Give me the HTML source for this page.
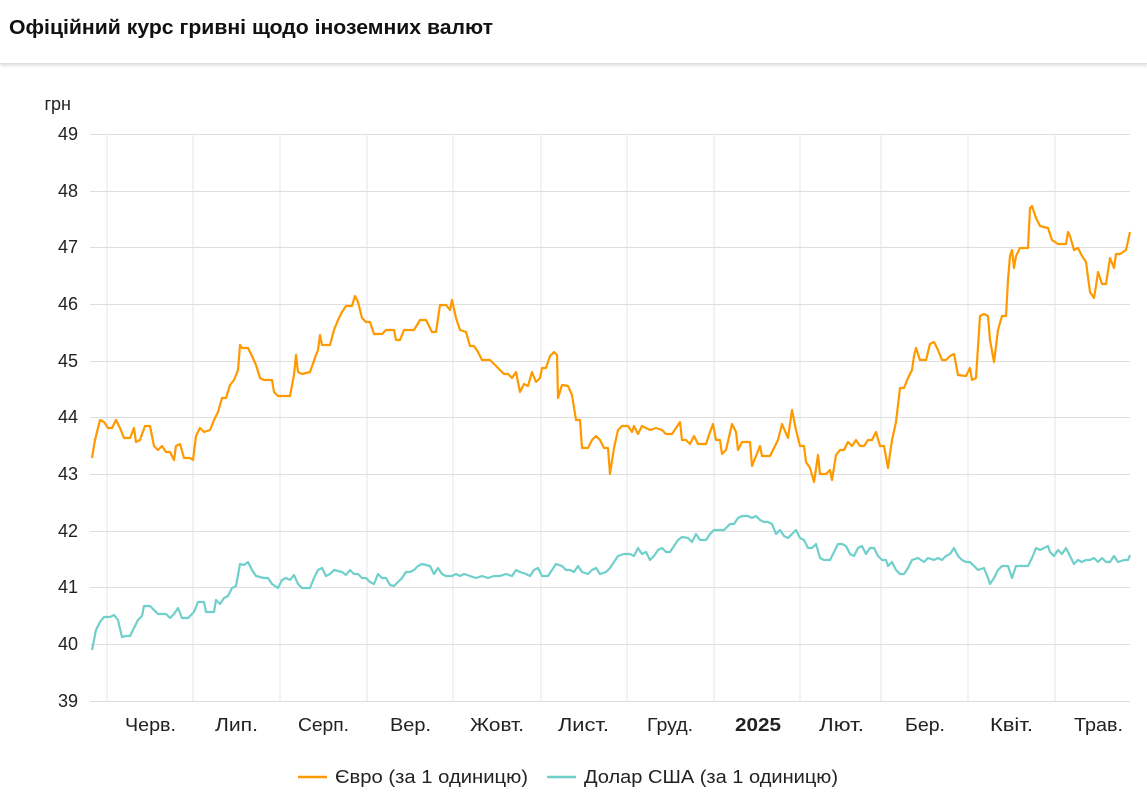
<!DOCTYPE html>
<html><head><meta charset="utf-8"><style>
body{margin:0;background:#fff;font-family:"Liberation Sans",Arial,sans-serif;}
.hdr{position:absolute;left:0;top:0;width:1147px;height:63px;border-bottom:1px solid #ddd;box-shadow:0 2px 3px rgba(0,0,0,0.12);}
svg{position:absolute;left:0;top:0}
</style></head><body>
<div class="hdr"></div>
<svg width="1147" height="796" font-family="Liberation Sans, Arial, sans-serif">
<text x="9" y="34" font-size="20" font-weight="bold" fill="#111" textLength="484" lengthAdjust="spacingAndGlyphs">Офіційний курс гривні щодо іноземних валют</text>
<g stroke="#ddd" stroke-width="1">
<line x1="90" x2="1130" y1="134.5" y2="134.5"/><line x1="90" x2="1130" y1="191.5" y2="191.5"/><line x1="90" x2="1130" y1="247.5" y2="247.5"/><line x1="90" x2="1130" y1="304.5" y2="304.5"/><line x1="90" x2="1130" y1="361.5" y2="361.5"/><line x1="90" x2="1130" y1="417.5" y2="417.5"/><line x1="90" x2="1130" y1="474.5" y2="474.5"/><line x1="90" x2="1130" y1="531.5" y2="531.5"/><line x1="90" x2="1130" y1="587.5" y2="587.5"/><line x1="90" x2="1130" y1="644.5" y2="644.5"/><line x1="90" x2="1130" y1="701.5" y2="701.5"/>
<g stroke="#e4e4e4"><line x1="107" x2="107" y1="134" y2="701"/><line x1="193" x2="193" y1="134" y2="701"/><line x1="280" x2="280" y1="134" y2="701"/><line x1="367" x2="367" y1="134" y2="701"/><line x1="453" x2="453" y1="134" y2="701"/><line x1="541" x2="541" y1="134" y2="701"/><line x1="627" x2="627" y1="134" y2="701"/><line x1="714" x2="714" y1="134" y2="701"/><line x1="800" x2="800" y1="134" y2="701"/><line x1="881" x2="881" y1="134" y2="701"/><line x1="968" x2="968" y1="134" y2="701"/><line x1="1055" x2="1055" y1="134" y2="701"/></g>
</g>
<g font-size="18" fill="#222" text-anchor="end">
<text x="71" y="110">грн</text>
<text x="78" y="140">49</text><text x="78" y="197">48</text><text x="78" y="253">47</text><text x="78" y="310">46</text><text x="78" y="367">45</text><text x="78" y="423">44</text><text x="78" y="480">43</text><text x="78" y="537">42</text><text x="78" y="593">41</text><text x="78" y="650">40</text><text x="78" y="707">39</text>
</g>
<g font-size="18" fill="#222">
<text x="125" y="731" textLength="51" lengthAdjust="spacingAndGlyphs">Черв.</text><text x="215" y="731" textLength="43" lengthAdjust="spacingAndGlyphs">Лип.</text><text x="298" y="731" textLength="51" lengthAdjust="spacingAndGlyphs">Серп.</text><text x="390" y="731" textLength="41" lengthAdjust="spacingAndGlyphs">Вер.</text><text x="470" y="731" textLength="54" lengthAdjust="spacingAndGlyphs">Жовт.</text><text x="558" y="731" textLength="51" lengthAdjust="spacingAndGlyphs">Лист.</text><text x="647" y="731" textLength="46" lengthAdjust="spacingAndGlyphs">Груд.</text><text x="735" y="731" font-weight="bold" textLength="46" lengthAdjust="spacingAndGlyphs">2025</text><text x="819" y="731" textLength="45" lengthAdjust="spacingAndGlyphs">Лют.</text><text x="905" y="731" textLength="40" lengthAdjust="spacingAndGlyphs">Бер.</text><text x="990" y="731" textLength="43" lengthAdjust="spacingAndGlyphs">Квіт.</text><text x="1074" y="731" textLength="49" lengthAdjust="spacingAndGlyphs">Трав.</text>
</g>
<polyline fill="none" stroke="#ff9900" stroke-width="2.2" stroke-linejoin="round" points="92,458 95,440 100,420 104,422 108,428 112,428 116,420 120,428 124,438 130,438 134,428 136,442 140,440 145,426 150,426 154,446 158,450 162,446 166,452 170,452 174,460 176,446 180,444 184,458 190,458 193,460 196,436 200,428 204,432 210,430 214,420 218,412 222,398 226,398 230,385 234,380 238,370 240,345 242,348 248,348 252,356 256,365 260,378 264,380 272,380 274,392 278,396 290,396 294,375 296,355 298,372 302,374 310,372 316,355 318,350 320,335 322,345 330,345 334,330 338,320 342,312 346,306 352,306 355,296 358,302 362,318 366,322 370,322 374,334 382,334 386,330 394,330 396,340 400,340 404,330 414,330 420,320 426,320 432,332 436,332 440,305 446,305 450,310 452,300 456,318 460,330 466,332 470,346 474,346 478,352 482,360 490,360 494,364 500,370 504,374 508,374 512,378 516,372 520,392 524,384 528,386 532,372 536,382 540,378 542,368 546,368 550,356 554,352 557,355 558,398 562,385 568,386 572,395 576,420 580,420 582,448 588,448 592,440 596,436 600,440 604,448 608,448 610,474 614,448 618,430 622,426 628,426 632,432 634,426 638,434 642,426 650,430 656,428 662,430 666,434 672,434 676,428 680,422 682,440 686,440 690,444 694,436 698,444 706,444 710,432 713,424 716,440 720,440 722,454 726,450 732,424 736,432 738,450 742,442 750,442 752,466 756,456 760,446 762,456 770,456 774,448 778,440 782,424 788,438 792,410 796,430 800,446 804,446 806,462 810,468 814,482 818,455 820,474 826,474 830,470 832,480 836,455 840,450 844,450 848,442 852,446 856,440 860,446 864,446 868,440 872,440 876,432 880,446 884,446 888,468 892,440 896,422 900,388 904,388 908,378 912,370 914,356 916,348 920,360 926,360 930,344 934,342 938,350 942,360 946,360 950,356 954,354 958,375 966,376 970,368 972,380 976,378 980,316 984,314 988,316 990,340 994,362 998,330 1002,316 1006,316 1008,280 1010,256 1012,250 1014,268 1016,256 1020,248 1024,248 1028,248 1030,208 1032,206 1036,218 1040,226 1048,228 1052,240 1058,244 1066,244 1068,232 1070,236 1074,250 1078,248 1082,256 1086,262 1090,292 1094,298 1096,286 1098,272 1102,284 1106,284 1110,258 1114,268 1116,254 1120,254 1126,250 1130,232"/>
<polyline fill="none" stroke="#6fcfcb" stroke-width="2.2" stroke-linejoin="round" points="92,650 96,630 100,622 104,617 110,617 114,615 118,620 122,637 126,636 130,636 134,628 138,620 142,616 144,606 150,606 154,610 158,614 166,614 170,618 174,614 178,608 182,618 188,618 194,612 198,602 204,602 206,612 214,612 216,600 220,604 224,598 228,596 232,588 236,586 238,575 240,564 244,565 248,562 252,570 256,576 264,578 268,578 272,584 278,588 282,580 286,578 290,580 294,575 298,584 302,588 310,588 314,578 318,570 322,568 326,576 330,574 334,570 342,572 346,575 350,570 354,574 358,574 362,578 366,578 370,582 374,584 378,574 382,578 386,578 390,585 394,586 398,582 402,578 406,572 410,572 414,570 418,566 422,564 430,566 434,574 438,568 442,574 446,576 452,576 456,574 460,576 464,574 470,576 476,578 482,576 488,578 494,576 500,576 506,574 512,576 516,570 520,572 526,574 530,576 534,570 538,568 542,576 548,576 552,570 556,564 562,566 566,570 570,570 574,572 578,566 582,572 588,574 592,570 596,568 600,574 606,572 610,568 614,562 618,556 624,554 630,554 634,556 638,548 642,554 646,552 650,560 654,556 658,550 662,548 666,552 670,552 674,546 678,540 682,537 688,538 692,542 696,534 700,540 706,540 710,534 714,530 720,530 724,530 730,524 734,524 738,518 742,516 748,516 752,518 756,516 760,520 764,522 768,522 772,524 776,534 780,530 784,536 788,538 792,534 796,530 800,538 804,540 808,548 812,548 816,544 820,558 824,560 830,560 834,552 838,544 842,544 846,546 850,554 854,556 858,548 862,546 866,554 870,548 874,548 878,556 882,560 886,560 888,566 892,562 896,570 900,574 904,574 908,568 912,560 918,558 924,562 928,558 934,560 938,558 942,560 946,556 950,554 954,548 958,556 962,560 966,562 970,562 974,566 978,570 984,568 988,578 990,584 994,578 998,570 1002,566 1008,566 1012,578 1016,566 1020,566 1028,566 1032,558 1036,548 1040,550 1044,548 1048,546 1050,552 1054,556 1058,550 1062,554 1066,548 1070,556 1074,564 1078,560 1082,562 1086,560 1090,560 1094,558 1098,562 1102,558 1106,562 1110,562 1114,556 1118,562 1124,560 1128,560 1130,555"/>
<line x1="298" x2="327" y1="777" y2="777" stroke="#ff9900" stroke-width="2.5"/>
<text x="335" y="783" font-size="18" fill="#222" textLength="193" lengthAdjust="spacingAndGlyphs">Євро (за 1 одиницю)</text>
<line x1="547" x2="576" y1="777" y2="777" stroke="#6fcfcb" stroke-width="2.5"/>
<text x="584" y="783" font-size="18" fill="#222" textLength="254" lengthAdjust="spacingAndGlyphs">Долар США (за 1 одиницю)</text>
</svg>
</body></html>
